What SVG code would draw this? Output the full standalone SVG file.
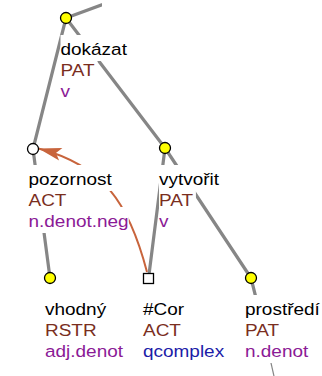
<svg xmlns="http://www.w3.org/2000/svg" width="322" height="376" viewBox="0 0 322 376">
<style>
.e{stroke:#868686;stroke-width:3.2;fill:none;stroke-linecap:round}
.thin{stroke:#868686;stroke-width:1.2;fill:none}
.arr{stroke:#c8643c;stroke-width:2;fill:none}
.bg{fill:#fff}
text{font-family:"Liberation Sans",Arial,sans-serif;font-size:16.5px}
.n{fill:#000}.f{fill:#7a2e1e}.t{fill:#8b1a96}.q{fill:#1c1ca8}
.yc{fill:#ffff00;stroke:#000;stroke-width:1.3}
.wc{fill:#fff;stroke:#000;stroke-width:1.3}
</style>
<defs>
<clipPath id="topclip"><rect x="0" y="0" width="102" height="40"/></clipPath>
<marker id="ah" markerUnits="userSpaceOnUse" viewBox="-24 -8 26 16" markerWidth="26" markerHeight="16" refX="0" refY="0" orient="auto" overflow="visible">
<path d="M-23,-6.5 L0,0 L-23,6.5 L-18,0 Z" fill="#c8643c"/>
</marker>
</defs>
<g id="connectors">
<line class="e" x1="66" y1="18" x2="112" y2="1" clip-path="url(#topclip)"/>
<line class="e" x1="66" y1="18" x2="33" y2="149"/>
<line class="e" x1="66" y1="18" x2="165" y2="148"/>
<line class="e" x1="33" y1="149" x2="50" y2="278"/>
<line class="e" x1="165" y1="148" x2="148.5" y2="278.5"/>
<line class="e" x1="165" y1="148" x2="251" y2="278"/>
<line class="e" x1="251" y1="278" x2="259" y2="310"/>
<line class="thin" x1="259" y1="310" x2="276" y2="385"/>
<path class="arr" d="M147,272 C128.8,202 103,165.25 38.5,148.5" marker-end="url(#ah)"/>
</g>
<g id="label-dokazat" transform="translate(60.5,55) scale(1.15,1)">
<rect class="bg" x="0" y="-20" width="57.8" height="26"/>
<rect class="bg" x="0" y="1" width="32.1" height="26"/>
<rect class="bg" x="0" y="22" width="8.3" height="26"/>
<text class="n" x="0" y="0">dokázat</text>
<text class="f" x="0" y="21">PAT</text>
<text class="t" x="0" y="42">v</text>
</g>
<g id="label-pozornost" transform="translate(28.5,185) scale(1.15,1)">
<rect class="bg" x="0" y="-20" width="72.5" height="26"/>
<rect class="bg" x="0" y="1" width="33" height="26"/>
<rect class="bg" x="0" y="22" width="87.2" height="26"/>
<text class="n" x="0" y="0">pozornost</text>
<text class="f" x="0" y="21">ACT</text>
<text class="t" x="0" y="42">n.denot.neg</text>
</g>
<g id="label-vytvorit" transform="translate(159,185) scale(1.15,1)">
<rect class="bg" x="0" y="-20" width="52.3" height="26"/>
<rect class="bg" x="0" y="1" width="32.1" height="26"/>
<rect class="bg" x="0" y="22" width="8.3" height="26"/>
<text class="n" x="0" y="0">vytvořit</text>
<text class="f" x="0" y="21">PAT</text>
<text class="t" x="0" y="42">v</text>
</g>
<g id="label-vhodny" transform="translate(45,315) scale(1.15,1)">
<rect class="bg" x="0" y="-20" width="53.2" height="26"/>
<rect class="bg" x="0" y="1" width="44.9" height="26"/>
<rect class="bg" x="0" y="22" width="67.9" height="26"/>
<text class="n" x="0" y="0">vhodný</text>
<text class="f" x="0" y="21">RSTR</text>
<text class="t" x="0" y="42">adj.denot</text>
</g>
<g id="label-cor" transform="translate(143,315) scale(1.15,1)">
<rect class="bg" x="0" y="-20" width="35.8" height="26"/>
<rect class="bg" x="0" y="1" width="33" height="26"/>
<rect class="bg" x="0" y="22" width="70.6" height="26"/>
<text class="n" x="0" y="0">#Cor</text>
<text class="f" x="0" y="21">ACT</text>
<text class="q" x="0" y="42">qcomplex</text>
</g>
<g id="label-prostredi" transform="translate(245,315) scale(1.15,1)">
<rect class="bg" x="0" y="-20" width="65.1" height="26"/>
<rect class="bg" x="0" y="1" width="32.1" height="26"/>
<rect class="bg" x="0" y="22" width="55" height="26"/>
<text class="n" x="0" y="0">prostředí</text>
<text class="f" x="0" y="21">PAT</text>
<text class="t" x="0" y="42">n.denot</text>
</g>
<g id="node-dokazat"><circle class="yc" cx="66" cy="18" r="5.5"/></g>
<g id="node-pozornost"><circle class="wc" cx="33" cy="149" r="5.5"/></g>
<g id="node-vytvorit"><circle class="yc" cx="165" cy="148" r="5.5"/></g>
<g id="node-vhodny"><circle class="yc" cx="50" cy="278" r="5.5"/></g>
<g id="node-cor"><rect class="wc" x="143.5" y="273.5" width="10" height="10"/></g>
<g id="node-prostredi"><circle class="yc" cx="251" cy="278" r="5.5"/></g>
</svg>
